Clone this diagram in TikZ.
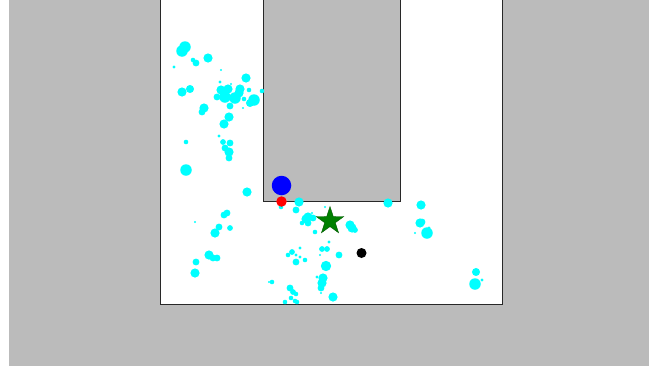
\documentclass[tikz,border=0pt]{standalone}
\usepackage{xcolor}
\usepackage{tikz}
\usetikzlibrary{shapes.geometric}

\definecolor{wallgray}{RGB}{187,187,187}
\definecolor{edgegray}{RGB}{40,40,40}
\definecolor{goalgreen}{RGB}{0,128,0}
\definecolor{partcyan}{RGB}{0,255,255}

\begin{document}
\begin{tikzpicture}[
    x=1pt, y=-1pt,
    wall/.style={fill=wallgray, draw=none},
    edge/.style={draw=edgegray, line width=0.8pt},
    particle/.style={fill=partcyan},
    marker/.style={circle, inner sep=0pt, draw=none},
    goalstar/.style={star, star points=5, star point ratio=2.6,
                     inner sep=0pt, minimum size=29pt,
                     fill=goalgreen, draw=green!35!black, line width=0.4pt}
  ]
  \useasboundingbox (0,0) rectangle (664,370);

  % arena
  \fill[wall] (9,0) rectangle (649,366);
  \fill[white] (160,0) rectangle (502,304);
  \draw[edge] (160,0) -- (160,304) -- (502,304) -- (502,0);
  \fill[wall] (263,0) rectangle (400,201);
  \draw[edge] (263,0) -- (263,201) -- (400,201) -- (400,0);

  % particles
  \foreach \px/\py/\pr in {
      182/51/5, 185/47/5, 174/67/1.5, 193/60/2, 196/63/3, 208/58/4,
      221/70/1, 246/78/4, 220/82/1.5, 182/92/4, 190/89/3.5, 221/90/4,
      228/89/4, 240/89/4, 225/97/5, 235/98/5, 217/97/3, 231/84/1,
      249/90/2, 244/99/2, 239/93/4, 254/100/5, 250/103/3.5, 262/91/2,
      230/106/3, 243/108/1, 204/108/4, 202/112/3, 229/117/4, 224/124/4,
      219/136/1.5, 223/142/2.5, 230/143/3, 225/148/3, 229/152/4,
      229/158/3, 186/142/2, 186/170/5, 247/192/4, 227/213/3, 224/215/3,
      195/222/1, 219/227/3, 215/233/4, 230/228/2.5, 209/255/4,
      213/258/3, 217/258/3, 196/262/3, 195/273/4, 269/282/1,
      299/202/4, 296/210/3, 281/207/2, 308/217/4, 306/219/4, 313/218/3,
      302/223/2, 308/223/3, 315/232/2, 312/213/1, 325/207/1, 350/225/4,
      352/228/4, 355/230/2.5, 329/242/1.5, 300/248/1.5, 292/252/2.5,
      288/255/2, 296/255/1.5, 296/262/3, 300/257/1.5, 322/249/2.5,
      327/249/2.5, 320/255/1, 339/255/3, 305/260/2, 326/266/4.5,
      323/278/4, 322/283/4, 321/288/3, 317/277/1.5, 272/282/2,
      290/288/3, 293/292/2.5, 296/294/2, 333/297/4, 291/298/2,
      295/301/2, 297/302/2, 285/302/2, 321/293/1,
      388/203/4, 421/205/4, 420/223/4, 422/222/3, 427/233/5,
      429/228/1.5, 415/233/1, 476/272/3.5, 475/284/5, 482/280/1.5}
    \fill[particle] (\px,\py) circle[radius=1.15*\pr pt];

  % robot, estimate, goal, target
  \node[marker, fill=red, minimum size=10.5pt] (est) at (281.5,201.5) {};
  \node[marker, fill=blue, minimum size=19.5pt] (robot) at (281.5,185.5) {};
  \node[goalstar] (goal) at (330,221) {};
  \node[marker, fill=black, minimum size=10pt] (target) at (361.5,253) {};
\end{tikzpicture}
\end{document}
